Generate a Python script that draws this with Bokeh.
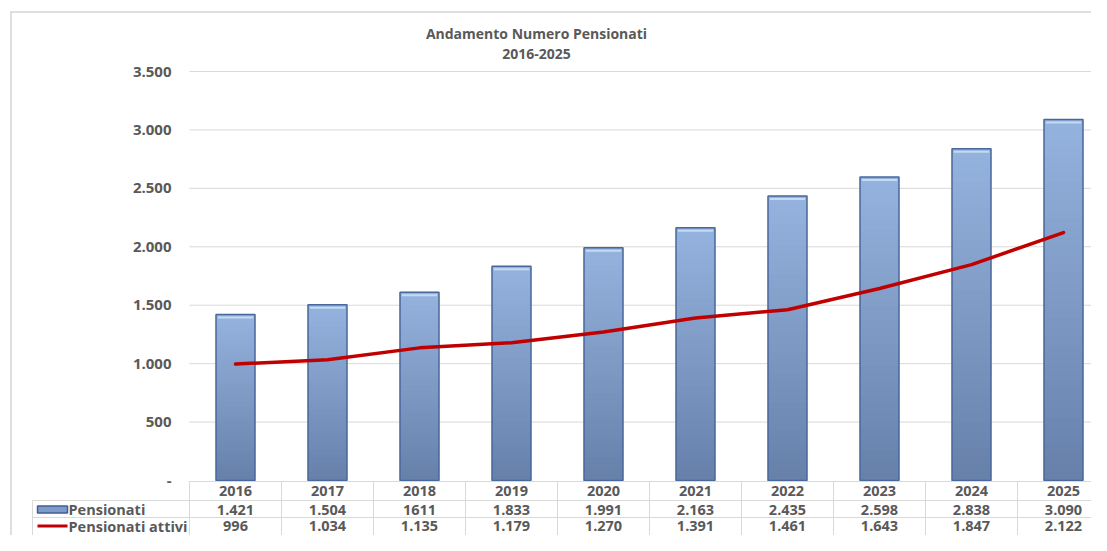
import numpy as np
from bokeh.plotting import figure
from bokeh.models import Range1d
from bokeh.core.properties import value
from bokeh.embed import file_html
from bokeh.resources import INLINE

# ---------------- data ----------------
years = ["2016", "2017", "2018", "2019", "2020", "2021", "2022", "2023", "2024", "2025"]
pensionati = [1421, 1504, 1611, 1833, 1991, 2163, 2435, 2598, 2838, 3090]
pensionati_attivi = [996, 1034, 1135, 1179, 1270, 1391, 1461, 1643, 1847, 2122]
pensionati_labels = ["1.421", "1.504", "1611", "1.833", "1.991", "2.163", "2.435", "2.598", "2.838", "3.090"]
attivi_labels = ["996", "1.034", "1.135", "1.179", "1.270", "1.391", "1.461", "1.643", "1.847", "2.122"]
y_ticks = [0, 500, 1000, 1500, 2000, 2500, 3000, 3500]
y_tick_labels = ["-", "500", "1.000", "1.500", "2.000", "2.500", "3.000", "3.500"]
title_lines = ["Andamento Numero Pensionati", "2016-2025"]
series_names = ["Pensionati", "Pensionati attivi"]

# ---------------- layout (pixels) ----------------
W, H = 1091, 535
PLOT_L = 189
CAT_W = 92
Y_ZERO = 480
Y_TOP = 71
Y_MAX = 3500
ppu = (Y_ZERO - Y_TOP) / Y_MAX
FONT = "Open Sans"
TXT = "#595959"
GRID = "#d9d9d9"

x_range = Range1d(-PLOT_L / CAT_W, (W - PLOT_L) / CAT_W)
y_range = Range1d((Y_ZERO - H) / ppu, Y_ZERO / ppu)

p = figure(width=W, height=H, x_range=x_range, y_range=y_range,
           output_backend="svg", toolbar_location=None, tools="",
           min_border=0, x_axis_location=None, y_axis_location=None)
p.extra_x_ranges = {"px": Range1d(0, W)}
p.extra_y_ranges = {"px": Range1d(H, 0)}
p.grid.visible = False
p.outline_line_color = None
p.background_fill_color = "white"
p.border_fill_color = "white"

n = len(years)
centers = [i + 0.5 for i in range(n)]
half = 0.212

# outer chart frame
p.segment(x0=[10.5, 10], y0=[11, 11.5], x1=[10.5, 1110], y1=[560, 11.5],
          x_range_name="px", y_range_name="px", line_color="#d4d4d4", line_width=1.5)

# title
p.text(x=[536, 536], y=[33, 53], text=title_lines, x_range_name="px", y_range_name="px",
       text_font=value(FONT), text_font_style="bold", text_font_size="14px",
       text_color=TXT, text_align="center", text_baseline="middle")

# horizontal gridlines
p.segment(x0=[PLOT_L] * (len(y_ticks) - 1), x1=[PLOT_L + CAT_W * 10 + 2] * (len(y_ticks) - 1),
          y0=y_ticks[1:], y1=y_ticks[1:], x_range_name="px",
          line_color=GRID, line_width=1)

# y tick labels
p.text(x=[171] * len(y_ticks), y=y_ticks, text=y_tick_labels, x_range_name="px",
       text_font=value(FONT), text_font_style="bold", text_font_size="15px",
       text_color=TXT, text_align="right", text_baseline="middle")

# bars with vertical gradient
N = 40
c_bot = np.array([0x66, 0x80, 0xaa])
c_top = np.array([0x95, 0xb3, 0xdf])
L, R, B, T, C = [], [], [], [], []
for i, v in enumerate(pensionati):
    for k in range(N):
        f = (k + 0.5) / N
        col = c_bot + (c_top - c_bot) * f
        L.append(centers[i] - half)
        R.append(centers[i] + half)
        B.append(v * k / N)
        T.append(min(v, v * (k + 1) / N + 1.0 / ppu))
        C.append("#%02x%02x%02x" % tuple(int(round(c)) for c in col))
p.quad(left=L, right=R, bottom=B, top=T, fill_color=C, line_color=None)
# top highlight
p.quad(left=[c - half + 0.02 for c in centers], right=[c + half - 0.02 for c in centers],
       top=[v - 2 / ppu for v in pensionati], bottom=[v - 4 / ppu for v in pensionati],
       fill_color="#c6daf1", line_color=None)
# outline
p.quad(left=[c - half for c in centers], right=[c + half for c in centers],
       top=pensionati, bottom=[0] * n, fill_color=None, line_color="#48679a", line_width=1.5)

# line series
p.line(x=centers, y=pensionati_attivi, line_color="#c00000", line_width=3.5,
       line_join="round", line_cap="round")

# ---------------- data table ----------------
R0, R1, R2 = Y_ZERO + 1, 500, 517
RIGHT = PLOT_L + CAT_W * 10
vx = [PLOT_L + CAT_W * k for k in range(11)]
p.segment(x0=vx, x1=vx, y0=[R0] * 11, y1=[560] * 11, x_range_name="px", y_range_name="px",
          line_color=GRID, line_width=1)
p.segment(x0=[PLOT_L, 32, 32, 32], x1=[RIGHT, RIGHT, RIGHT, 32], y0=[R0, R1, R2, R1],
          y1=[R0, R1, R2, 560], x_range_name="px", y_range_name="px",
          line_color=GRID, line_width=1)

row_y = [(R0 + R1) / 2, (R1 + R2) / 2 + 0.5, 525.5]
for labels, yy in zip([years, pensionati_labels, attivi_labels], row_y):
    p.text(x=centers, y=[yy] * n, text=labels, y_range_name="px",
           text_font=value(FONT), text_font_style="bold", text_font_size="14.5px",
           text_color=TXT, text_align="center", text_baseline="middle")

# legend keys + series names
p.quad(left=[37], right=[67], top=[row_y[1] - 3.5], bottom=[row_y[1] + 3.5],
       x_range_name="px", y_range_name="px", fill_color="#7d9acb", line_color="#3f5f94", line_width=1.5)
p.segment(x0=[37], x1=[67], y0=[row_y[2]], y1=[row_y[2]], x_range_name="px", y_range_name="px",
          line_color="#c00000", line_width=3)
p.text(x=[68, 68], y=row_y[1:], text=series_names, x_range_name="px", y_range_name="px",
       text_font=value(FONT), text_font_style="bold", text_font_size="14.5px",
       text_color=TXT, text_align="left", text_baseline="middle")

open("out.html", "w").write(file_html(p, INLINE))
